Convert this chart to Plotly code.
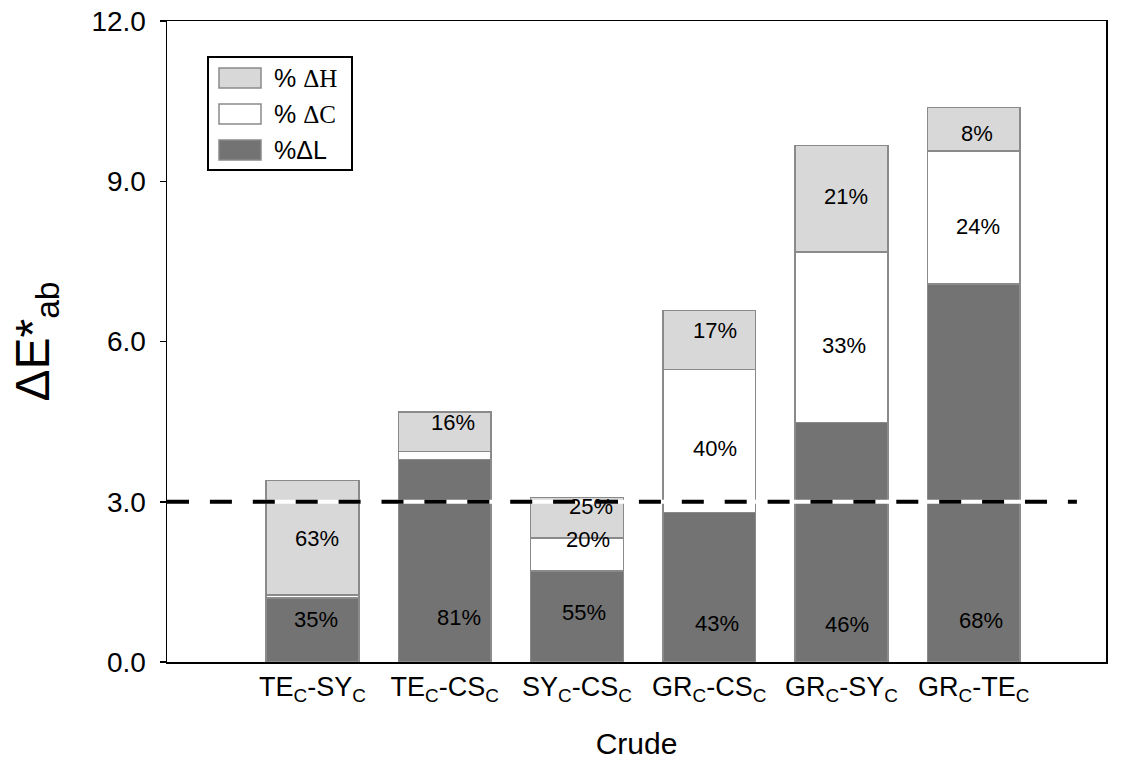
import plotly.graph_objects as go

# ---------------- data ----------------
categories = ["TE<sub>C</sub>-SY<sub>C</sub>", "TE<sub>C</sub>-CS<sub>C</sub>",
              "SY<sub>C</sub>-CS<sub>C</sub>", "GR<sub>C</sub>-CS<sub>C</sub>",
              "GR<sub>C</sub>-SY<sub>C</sub>", "GR<sub>C</sub>-TE<sub>C</sub>"]
dL = [1.20, 3.79, 1.70, 2.80, 4.48, 7.08]
dC = [0.05, 0.15, 0.62, 2.68, 3.20, 2.49]
dH = [2.15, 0.74, 0.76, 1.10, 1.99, 0.81]
pct_L = [35, 81, 55, 43, 46, 68]
pct_C = [None, None, 20, 40, 33, 24]
pct_H = [63, 16, 25, 17, 21, 8]
threshold = 3.0
y_ticks = [0, 3, 6, 9, 12]

# label placement (layout only)
lab_y_L = [0.80, 0.84, 0.92, 0.73, 0.71, 0.77]
lab_y_C = [None, None, 2.30, 4.00, 5.92, 8.16]
lab_y_H = [2.32, 4.49, 2.92, 6.20, 8.71, 9.90]
lab_dx_L = [4, 14, 7, 8, 6, 7]
lab_dx_C = [0, 0, 11, 6, 3, 4]
lab_dx_H = [5, 8, 14, 6, 5, 3]

COL_L = "#737373"
COL_C = "#ffffff"
COL_H = "#d8d8d8"
EDGE = "#8a8a8a"
FONT = "Liberation Sans, Arial, sans-serif"
SERIF = "Liberation Serif, Times New Roman, serif"

fig = go.Figure()
for vals, col, name in [(dL, COL_L, "%ΔL"), (dC, COL_C, "% ΔC"), (dH, COL_H, "% ΔH")]:
    fig.add_trace(go.Bar(x=categories, y=vals, name=name, width=0.7,
                         marker=dict(color=col, line=dict(color=EDGE, width=1.5)),
                         showlegend=False, hoverinfo="skip"))

# threshold line: white underlay + black dashes
x_lo, x_hi = -1.1, 5.78
fig.add_shape(type="line", xref="x", yref="y", x0=x_lo, x1=x_hi, y0=threshold, y1=threshold,
              line=dict(color="white", width=4), layer="above")
fig.add_shape(type="line", xref="x", yref="y", x0=x_lo, x1=x_hi, y0=threshold, y1=threshold,
              line=dict(color="black", width=4, dash="22px,20.9px"), layer="above")

# percentage labels
def add_labels(pcts, ys, dxs):
    for i, (p, yy, dx) in enumerate(zip(pcts, ys, dxs)):
        if p is None:
            continue
        fig.add_annotation(x=categories[i], y=yy, xref="x", yref="y", text=f"{p}%",
                           showarrow=False, xshift=dx,
                           font=dict(family=FONT, size=22, color="black"))

add_labels(pct_L, lab_y_L, lab_dx_L)
add_labels(pct_C, lab_y_C, lab_dx_C)
add_labels(pct_H, lab_y_H, lab_dx_H)

# figure geometry (body margin removed via post_script)
W, H = 1121, 769
ml, mr, mt, mb = 167, 15, 21, 107
pw, ph = W - ml - mr, H - mt - mb

def px(xp):
    return (xp - ml) / pw

def py(yp):
    return 1 - (yp - mt) / ph

# custom legend (paper coordinates)
fig.add_shape(type="rect", xref="paper", yref="paper", x0=px(208), x1=px(352), y0=py(57), y1=py(170),
              line=dict(color="black", width=2), fillcolor="white", layer="above")
leg_items = [(COL_H, f"% <span style='font-family:{SERIF}'>ΔH</span>", 78),
             (COL_C, f"% <span style='font-family:{SERIF}'>ΔC</span>", 114),
             (COL_L, "%ΔL", 150)]
for col, txt, yc in leg_items:
    fig.add_shape(type="rect", xref="paper", yref="paper", x0=px(219), x1=px(261),
                  y0=py(yc - 10), y1=py(yc + 10),
                  line=dict(color=EDGE, width=1.5), fillcolor=col, layer="above")
    fig.add_annotation(xref="paper", yref="paper", x=px(272), y=py(yc), text=txt, showarrow=False,
                       xanchor="left", yanchor="middle", font=dict(family=FONT, size=25, color="black"))

fig.update_layout(
    width=W, height=H, barmode="stack", bargap=0.3,
    margin=dict(l=ml, r=mr, t=mt, b=mb, autoexpand=False),
    paper_bgcolor="white", plot_bgcolor="white",
    font=dict(family=FONT, color="black"),
    showlegend=False,
)
fig.update_xaxes(range=[-1.1, 6.0], showline=True, linecolor="black", linewidth=1.5, mirror=True,
                 ticks="", showgrid=False, tickfont=dict(size=27, family=FONT), automargin=False,
                 title=dict(text="Crude", font=dict(size=30, family=FONT), standoff=28))
fig.update_yaxes(range=[0, 12], tickvals=y_ticks, tickformat=".1f", showline=True, linecolor="black",
                 linewidth=1.5, mirror=True, ticks="outside", ticklen=6, tickwidth=1.5, tickcolor="black",
                 ticklabelstandoff=8, ticklabeloverflow="allow", automargin=False,
                 showgrid=False, zeroline=False, tickfont=dict(size=28, family=FONT),
                 title=dict(text="ΔE*<sub>ab</sub>", font=dict(size=48, family=FONT), standoff=26))

fig.write_html("out.html", config={"displayModeBar": False, "staticPlot": True},
               post_script="document.body.style.margin='0';document.body.style.overflow='hidden';")
